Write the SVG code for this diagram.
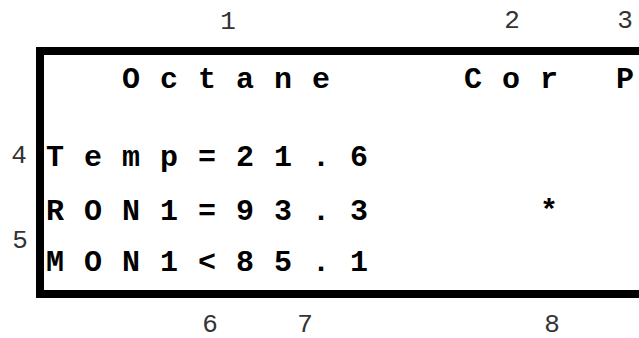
<svg xmlns="http://www.w3.org/2000/svg" width="639" height="338" viewBox="0 0 639 338">
<style>
.lcd{font-family:"Liberation Mono","Courier New",monospace;font-weight:bold;font-size:30px;letter-spacing:20px;fill:#000;white-space:pre}
.lbl{font-family:"Liberation Mono","Courier New",monospace;font-size:26px;fill:#333;text-anchor:middle}
.frame{fill:none;stroke:#000;stroke-width:8}
</style>
<rect width="639" height="338" fill="#fff"/>
<g id="display">
<path class="frame" d="M660 51 H40 V294 H660"/>
</g>
<g id="rows">
<text class="lcd" x="46" y="88" xml:space="preserve">  Octane   Cor P</text>
<text class="lcd" x="46" y="166" xml:space="preserve">Temp=21.6</text>
<text class="lcd" x="46" y="220" xml:space="preserve">RON1=93.3    *</text>
<text class="lcd" x="46" y="271" xml:space="preserve">MON1&lt;85.1</text>
</g>
<g id="labels">
<text class="lbl" x="228" y="29">1</text>
<text class="lbl" x="512" y="28">2</text>
<text class="lbl" x="625" y="28">3</text>
<text class="lbl" x="19" y="163">4</text>
<text class="lbl" x="20" y="248">5</text>
<text class="lbl" x="210" y="332">6</text>
<text class="lbl" x="305" y="332">7</text>
<text class="lbl" x="552" y="332">8</text>
</g>
</svg>
